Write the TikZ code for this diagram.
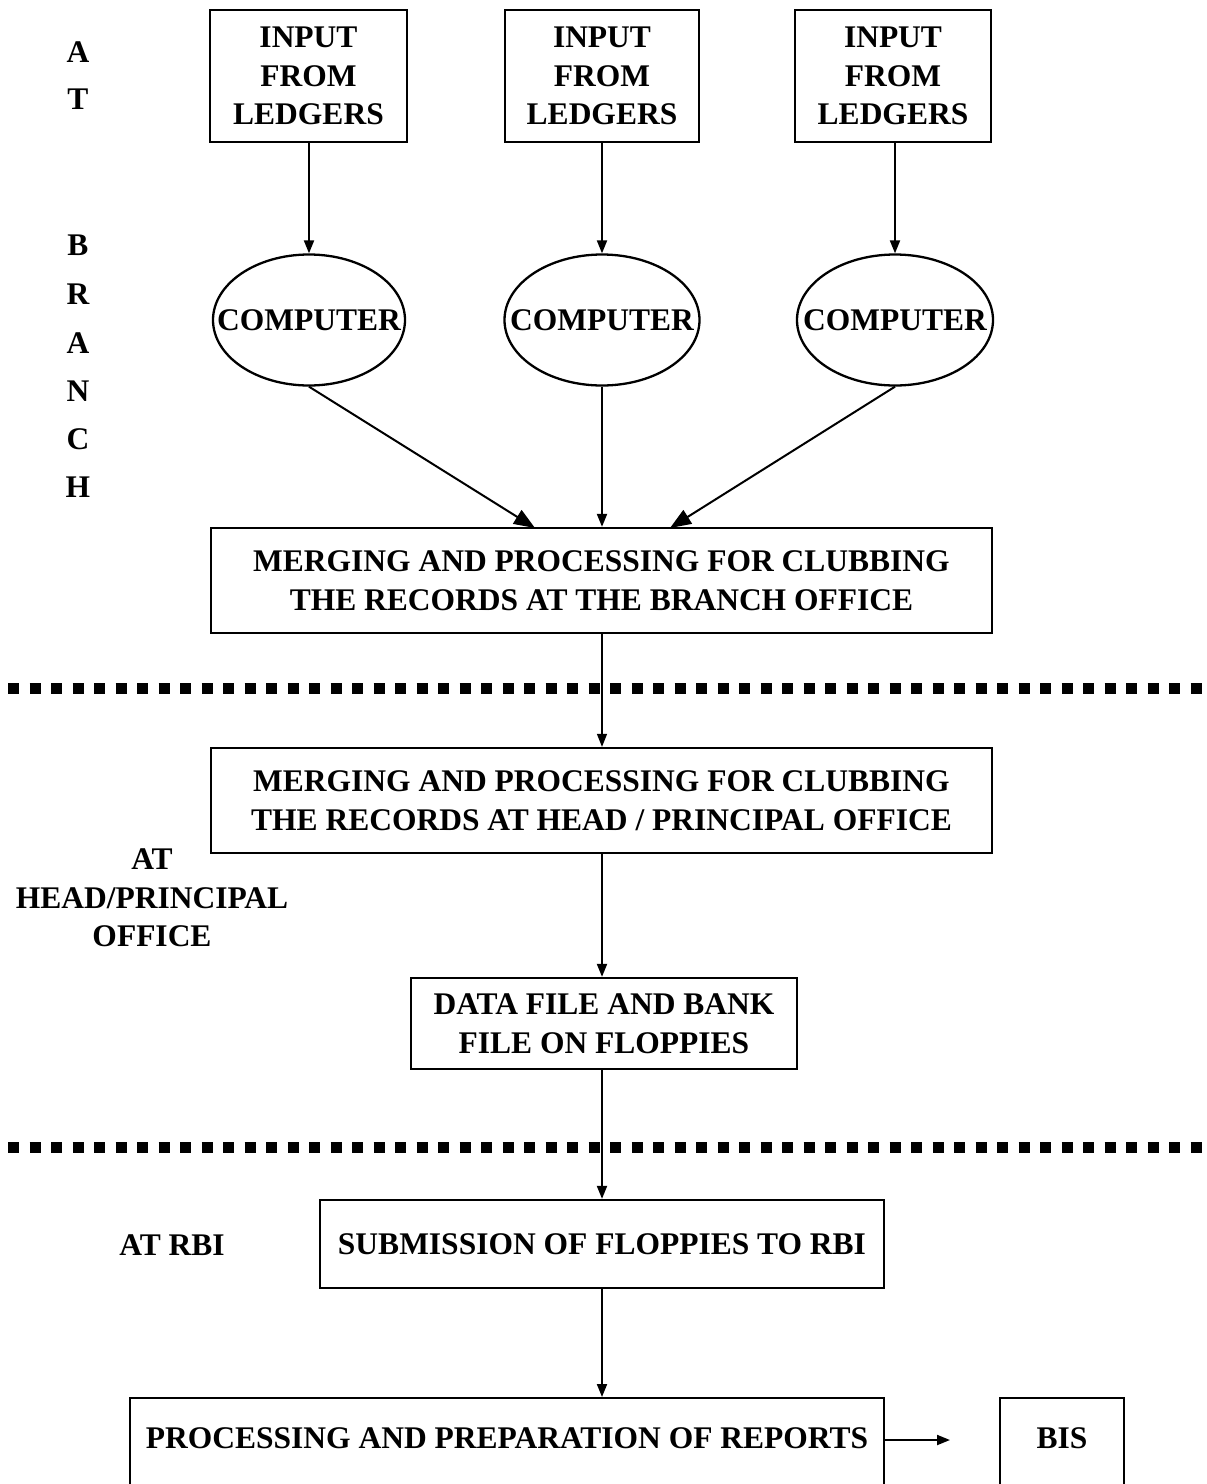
\documentclass[tikz,border=0pt]{standalone}
\usepackage{fontspec}
\setmainfont{Liberation Serif}
\usetikzlibrary{shapes.geometric,arrows.meta}
\newcommand\dfs{\fontsize{31.5}{38.5}\selectfont\bfseries}
\begin{document}
\begin{tikzpicture}[x=1pt,y=-1pt,
  box/.style={draw,line width=2.3pt,align=center,inner sep=0pt,font=\dfs},
  oval/.style={draw,ellipse,line width=2.3pt,inner sep=0pt},
  lbl/.style={align=center,inner sep=0pt,font=\dfs},
  arr/.style={line width=2pt,-{Triangle[length=13pt,width=10pt]}},
  bigarr/.style={line width=2pt,-{Triangle[length=21pt,width=16pt]}},
  sep/.style={line width=11pt,dash pattern=on 11pt off 10.5pt}]
\useasboundingbox (0,0) rectangle (1207,1484);
\fill[white] (0,0) rectangle (1207,1484);

% left labels
\node[lbl] (la1) at (78,52) {A};
\node[lbl] (lt1) at (78,99) {T};
\node[lbl] (lb) at (78,245) {B};
\node[lbl] (lr) at (78,294) {R};
\node[lbl] (la2) at (78,343) {A};
\node[lbl] (ln) at (78,391) {N};
\node[lbl] (lc) at (78,439) {C};
\node[lbl] (lh) at (78,487) {H};
\node[lbl] (lhead) at (152,898) {AT\\HEAD/PRINCIPAL\\OFFICE};
\node[lbl] (lrbi) at (172,1245) {AT RBI};

% input boxes
\node[box,minimum width=197pt,minimum height=132pt] (in1) at (308.5,76) {INPUT\\FROM\\LEDGERS};
\node[box,minimum width=194pt,minimum height=132pt] (in2) at (602,76) {INPUT\\FROM\\LEDGERS};
\node[box,minimum width=196pt,minimum height=132pt] (in3) at (893,76) {INPUT\\FROM\\LEDGERS};

% computers
\node[oval,minimum width=192pt,minimum height=131pt] (c1) at (309,320) {};
\node[oval,minimum width=195pt,minimum height=131pt] (c2) at (602,320) {};
\node[oval,minimum width=196pt,minimum height=131pt] (c3) at (895,320) {};
\node[lbl] (c1t) at (c1.center) {COMPUTER};
\node[lbl] (c2t) at (c2.center) {COMPUTER};
\node[lbl] (c3t) at (c3.center) {COMPUTER};

% merging boxes
\node[box,minimum width=781pt,minimum height=105pt] (m1) at (601.5,580.5) {MERGING AND PROCESSING FOR CLUBBING\\THE RECORDS AT THE BRANCH OFFICE};
\node[box,minimum width=781pt,minimum height=105pt] (m2) at (601.5,800.5) {MERGING AND PROCESSING FOR CLUBBING\\THE RECORDS AT HEAD / PRINCIPAL OFFICE};
\node[box,minimum width=386pt,minimum height=91pt] (df) at (604,1023.5) {DATA FILE AND BANK\\FILE ON FLOPPIES};
\node[box,minimum width=564pt,minimum height=88pt] (sub) at (602,1244) {SUBMISSION OF FLOPPIES TO RBI};
\node[box,minimum width=754pt,anchor=north,text height=50.5pt,text depth=80pt] (proc) at (507,1397) {PROCESSING AND PREPARATION OF REPORTS};
\node[box,minimum width=124pt,anchor=north,text height=50.5pt,text depth=80pt] (bis) at (1062,1397) {BIS};

% separators
\coordinate (s1a) at (8,688);
\coordinate (s1b) at (1207,688);
\coordinate (s2a) at (8,1147);
\coordinate (s2b) at (1207,1147);
\draw[sep] (s1a) -- (s1b);
\draw[sep] (s2a) -- (s2b);

% connectors
\draw[arr] (in1.south -| c1.north) -- (c1.north);
\draw[arr] (in2.south -| c2.north) -- (c2.north);
\draw[arr] (in3.south -| c3.north) -- (c3.north);
\coordinate (t1) at (535,528);
\coordinate (t3) at (670,528);
\draw[bigarr] (c1.south) -- (t1);
\draw[arr] (c2.south) -- (c2.south |- m1.north);
\draw[bigarr] (c3.south) -- (t3);
\draw[line width=1.2pt,-{Triangle[length=13pt,width=10pt]}] (m1.south -| c2.south) -- (m2.north -| c2.south);
\draw[arr] (m2.south -| c2.south) -- (df.north -| c2.south);
\draw[arr] (df.south -| c2.south) -- (sub.north -| c2.south);
\draw[arr] (sub.south -| c2.south) -- (proc.north -| c2.south);
\coordinate (bisarr) at (950,1440);
\draw[arr] (proc.east |- bisarr) -- (bisarr);
\end{tikzpicture}
\end{document}
